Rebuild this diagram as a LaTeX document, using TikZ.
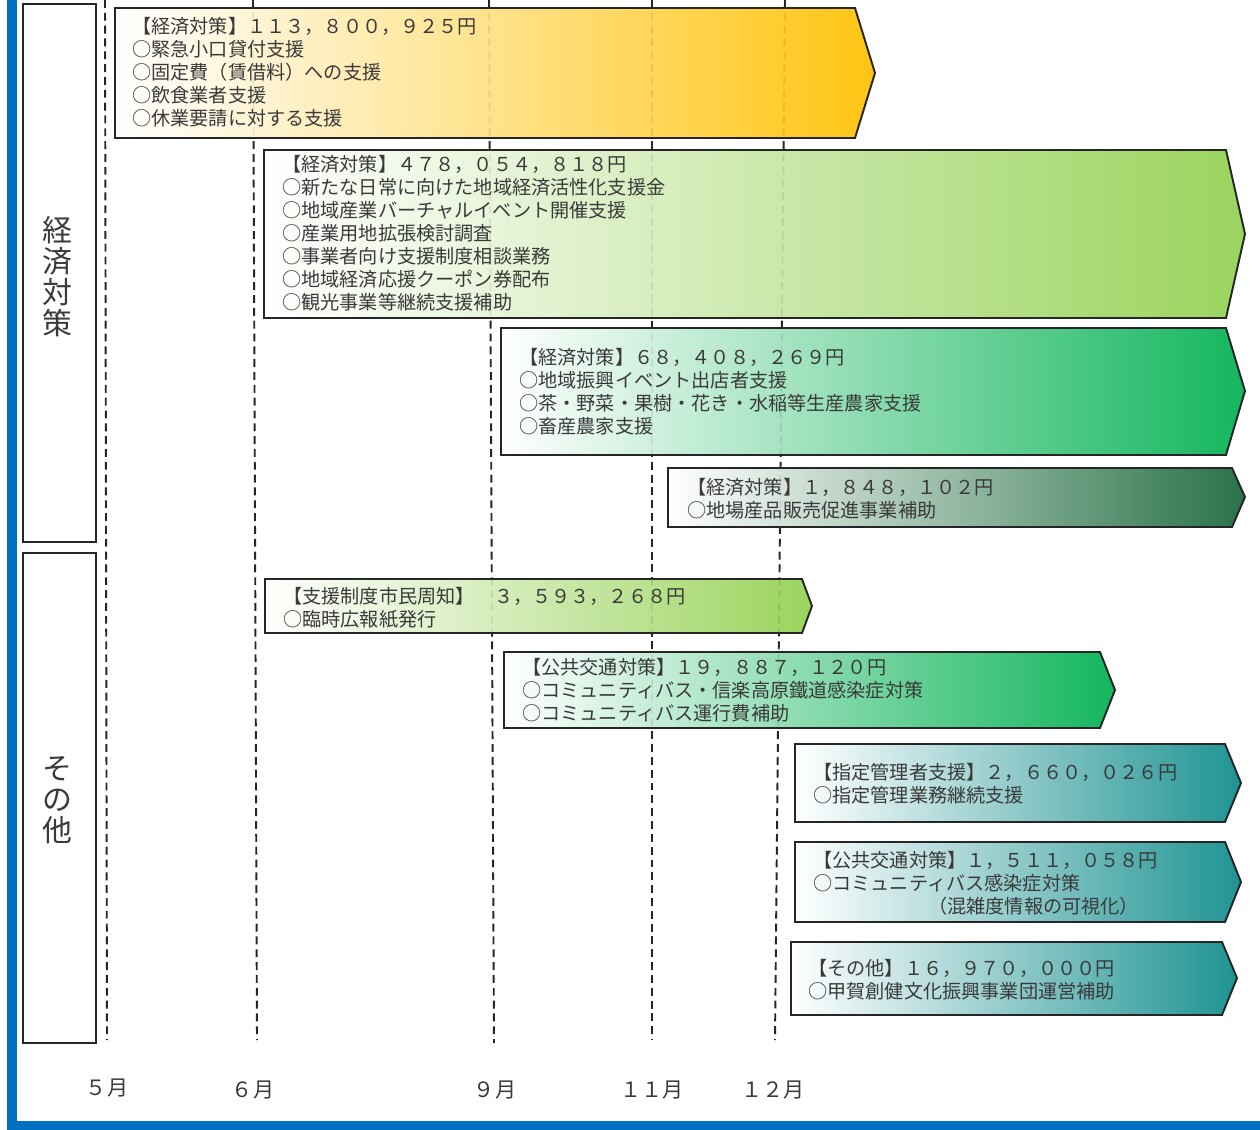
\documentclass[tikz,border=0pt]{standalone}
\usepackage{fontspec}
\setmainfont{Noto Sans CJK JP}
\definecolor{frameblue}{HTML}{0070C0}
\definecolor{textgray}{HTML}{3A3A3A}
\definecolor{barorange}{HTML}{FFC000}
\definecolor{barlime}{HTML}{92D050}
\definecolor{bargreen}{HTML}{00B050}
\definecolor{bardark}{HTML}{176638}
\definecolor{barteal}{HTML}{0C8A8A}

\begin{document}
\begin{tikzpicture}[x=0.2mm,y=-0.2mm,
	bar/.style={draw=black!85, line width=1.1pt, fill opacity=0.92, left color=white},
	txt/.style={anchor=north west, inner sep=0pt, align=left, text=textgray, font=\fontsize{10.9}{13.1}\selectfont},
	catbox/.style={draw=black!85, line width=1.1pt},
	cat/.style={align=center, inner sep=0pt, text=textgray, font=\fontsize{17}{17.6}\selectfont},
	month/.style={inner sep=0pt, text=textgray, font=\fontsize{12}{14}\selectfont},
	monthline/.style={draw=black!85, line width=1.1pt, dash pattern=on 4.5pt off 2.8pt}]
	\useasboundingbox (0,0) rectangle (1260,1130);

	\fill[frameblue] (7,0) rectangle (17,1130);
	\fill[frameblue] (7,1121) rectangle (1260,1130);

	\draw[catbox] (23,4) rectangle (96,542);
	\draw[catbox] (23,553) rectangle (96,1043);
	\node[cat](keizai) at (57,277) {経\\済\\対\\策};
	\node[cat](sonota) at (57,800) {そ\\の\\他};

	\draw[monthline] (105,0) -- (107,1040);
	\draw[monthline] (253,0) -- (257,1040);
	\draw[monthline] (489,0) -- (494,1043);
	\draw[monthline] (652,0) -- (652,1040);
	\draw[monthline] (785,0) -- (775,1040);

	\node[month](m5) at (107,1088) {５月};
	\node[month](m6) at (253,1090) {６月};
	\node[month](m9) at (495,1090) {９月};
	\node[month](m11) at (652,1090) {１１月};
	\node[month](m12) at (773,1090) {１２月};

	\draw[bar, right color=barorange] (115,8) -- (855,8) -- (875,73) -- (855,138) -- (115,138) -- cycle;
	\draw[bar, right color=barlime] (264,150) -- (1226,150) -- (1245,234) -- (1226,318) -- (264,318) -- cycle;
	\draw[bar, right color=bargreen] (501,328) -- (1226,328) -- (1245,391) -- (1226,455) -- (501,455) -- cycle;
	\draw[bar, right color=bardark] (668,468) -- (1232,468) -- (1245,497) -- (1232,527) -- (668,527) -- cycle;
	\draw[bar, right color=barlime] (265,579) -- (802,579) -- (812,606) -- (802,633) -- (265,633) -- cycle;
	\draw[bar, right color=bargreen] (504,652) -- (1100,652) -- (1115,690) -- (1100,728) -- (504,728) -- cycle;
	\draw[bar, right color=barteal] (795,744) -- (1225,744) -- (1241,783) -- (1225,822) -- (795,822) -- cycle;
	\draw[bar, right color=barteal] (795,842) -- (1225,842) -- (1241,882) -- (1225,922) -- (795,922) -- cycle;
	\draw[bar, right color=barteal] (791,942) -- (1222,942) -- (1237,978) -- (1222,1015) -- (791,1015) -- cycle;

	\node[txt](t1) at (132,17) {【経済対策】１１３，８００，９２５円\\○緊急小口貸付支援\\○固定費（賃借料）への支援\\○飲食業者支援\\○休業要請に対する支援};
	\node[txt](t2) at (282,155) {【経済対策】４７８，０５４，８１８円\\○新たな日常に向けた地域経済活性化支援金\\○地域産業バーチャルイベント開催支援\\○産業用地拡張検討調査\\○事業者向け支援制度相談業務\\○地域経済応援クーポン券配布\\○観光事業等継続支援補助};
	\node[txt](t3) at (519,348) {【経済対策】６８，４０８，２６９円\\○地域振興イベント出店者支援\\○茶・野菜・果樹・花き・水稲等生産農家支援\\○畜産農家支援};
	\node[txt](t4) at (687,478) {【経済対策】１，８４８，１０２円\\○地場産品販売促進事業補助};
	\node[txt](t5) at (283,587) {【支援制度市民周知】　３，５９３，２６８円\\○臨時広報紙発行};
	\node[txt](t6) at (522,658) {【公共交通対策】１９，８８７，１２０円\\○コミュニティバス・信楽高原鐵道感染症対策\\○コミュニティバス運行費補助};
	\node[txt](t7) at (813,763) {【指定管理者支援】２，６６０，０２６円\\○指定管理業務継続支援};
	\node[txt](t8) at (813,851) {【公共交通対策】１，５１１，０５８円\\○コミュニティバス感染症対策\\　　　　　　（混雑度情報の可視化）};
	\node[txt](t9) at (808,959) {【その他】１６，９７０，０００円\\○甲賀創健文化振興事業団運営補助};
\end{tikzpicture}
\end{document}
